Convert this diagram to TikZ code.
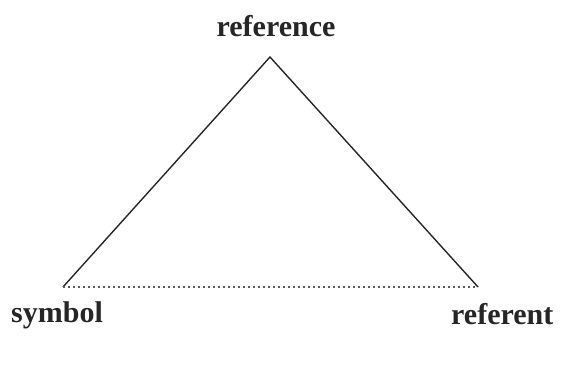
\documentclass[tikz,border=0pt]{standalone}
\usepackage{fontspec}
\setmainfont{Liberation Serif}
\usetikzlibrary{positioning}

\begin{document}
\begin{tikzpicture}[
      x=1pt, y=-1pt,
      lbl/.style={font=\fontsize{30}{32}\selectfont\bfseries, text=black!85, inner sep=0pt},
      side/.style={draw=black!85, line width=1.4pt},
      base/.style={draw=black!65, line width=1.4pt, dash pattern=on 1.6pt off 3.4pt},
    ]
      \useasboundingbox (0,0) rectangle (574,376);
      % corners of the triangle
      \coordinate (top) at (270,57);
      \coordinate (left) at (63,287);
      \coordinate (right) at (478,287);
      \draw[side] (left) -- (top) -- (right);
      \draw[base] (left) -- (right);
      % labels
      \node[lbl, anchor=base] (ref) at (276,36) {reference};
      \node[lbl, anchor=base west] (sym) at (11,322) {symbol};
      \node[lbl, anchor=base west] (obj) at (451,324) {referent};
    \end{tikzpicture}
\end{document}
